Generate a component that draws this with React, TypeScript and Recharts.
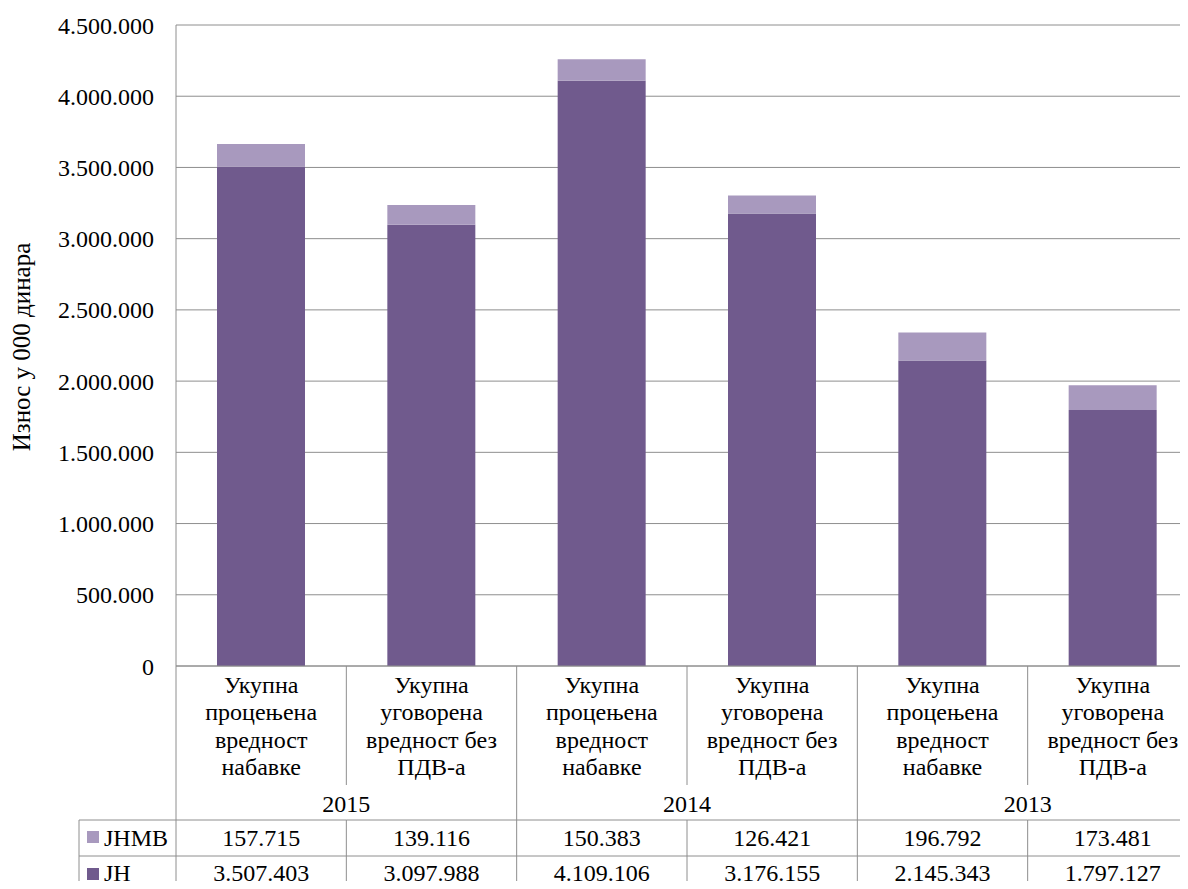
import React from 'react';
import { BarChart, Bar, XAxis, YAxis, CartesianGrid, Label } from 'recharts';

// categories: one entry per bar, split into the label's lines
const categoryLines = [
  ['Укупна', 'процењена', 'вредност', 'набавке'],
  ['Укупна', 'уговорена', 'вредност без', 'ПДВ-а'],
  ['Укупна', 'процењена', 'вредност', 'набавке'],
  ['Укупна', 'уговорена', 'вредност без', 'ПДВ-а'],
  ['Укупна', 'процењена', 'вредност', 'набавке'],
  ['Укупна', 'уговорена', 'вредност без', 'ПДВ-а'],
];
const years = ['2015', '2014', '2013'];

const jh = [3507403, 3097988, 4109106, 3176155, 2145343, 1797127];
const jhmb = [157715, 139116, 150383, 126421, 196792, 173481];

const yTicks = [0, 500000, 1000000, 1500000, 2000000, 2500000, 3000000, 3500000, 4000000, 4500000];

const JH_COLOR = '#705a8d';
const JHMB_COLOR = '#a899be';
const LINE = '#8e8e8e';
const FONT = 'Liberation Serif, Times New Roman, DejaVu Serif, serif';

const CHART_W = 1200;
const CHART_H = 900;
const PLOT_LEFT = 176;
const PLOT_RIGHT = 2;
const BAND = (CHART_W - PLOT_LEFT - PLOT_RIGHT) / categoryLines.length;
const LEGEND_LEFT = 79;

const fmt = (v: number) => String(v).replace(/\B(?=(\d{3})+(?!\d))/g, '.');

const data = categoryLines.map((lines, i) => ({
  name: `c${i}`,
  jh: jh[i],
  jhmb: jhmb[i],
}));

const textStyle: React.CSSProperties = { fontFamily: FONT, fontSize: 24, fill: '#000' };

function TableTick(props: any) {
  const { x, y, payload } = props;
  const i: number = payload?.index ?? props.index ?? 0;
  const half = BAND / 2;
  const left = x - half;
  const right = x + half;
  const yearEdge = i % 2 === 0;
  const bottom = y + 240;
  return (
    <g>
      {/* left boundary of this column */}
      {yearEdge ? (
        <line x1={left} y1={y} x2={left} y2={bottom} stroke={LINE} />
      ) : (
        <>
          <line x1={left} y1={y} x2={left} y2={y + 119} stroke={LINE} />
          <line x1={left} y1={y + 154} x2={left} y2={bottom} stroke={LINE} />
        </>
      )}
      {i === categoryLines.length - 1 && (
        <line x1={right} y1={y} x2={right} y2={bottom} stroke={LINE} />
      )}
      {categoryLines[i].map((t, k) => (
        <text key={k} x={x} y={y + 27 + k * 27.3} textAnchor="middle" style={textStyle}>
          {t}
        </text>
      ))}
      {yearEdge && (
        <text x={right} y={y + 146} textAnchor="middle" style={textStyle}>
          {years[i / 2]}
        </text>
      )}
      <line x1={i === 0 ? LEGEND_LEFT : left} y1={y + 154} x2={right} y2={y + 154} stroke={LINE} />
      <line x1={i === 0 ? LEGEND_LEFT : left} y1={y + 190} x2={right} y2={y + 190} stroke={LINE} />
      <line x1={i === 0 ? LEGEND_LEFT : left} y1={y + 226} x2={right} y2={y + 226} stroke={LINE} />
      <text x={x} y={y + 180} textAnchor="middle" style={textStyle}>{fmt(jhmb[i])}</text>
      <text x={x} y={y + 215} textAnchor="middle" style={textStyle}>{fmt(jh[i])}</text>
      {i === 0 && (
        <g>
          <line x1={LEGEND_LEFT} y1={y + 154} x2={LEGEND_LEFT} y2={bottom} stroke={LINE} />
          <rect x={87} y={y + 165} width={12} height={12} fill={JHMB_COLOR} />
          <text x={104} y={y + 180} style={textStyle}>JHMB</text>
          <rect x={87} y={y + 202} width={12} height={12} fill={JH_COLOR} />
          <text x={104} y={y + 215} style={textStyle}>JH</text>
        </g>
      )}
    </g>
  );
}

export default function App() {
  return (
    <div
      style={{
        margin: -8,
        width: 1188,
        height: 889,
        overflow: 'hidden',
        background: '#fff',
        fontFamily: FONT,
      }}
    >
      <BarChart
        width={CHART_W}
        height={CHART_H}
        data={data}
        margin={{ top: 25, right: PLOT_RIGHT, bottom: 0, left: 0 }}
        style={{ fontFamily: FONT }}
      >
        <CartesianGrid vertical={false} stroke={LINE} strokeOpacity={1} />
        <XAxis
          dataKey="name"
          height={CHART_H - 666}
          interval={0}
          tickLine={false}
          tickSize={0}
          tickMargin={0}
          axisLine={{ stroke: LINE }}
          tick={<TableTick />}
        />
        <YAxis
          width={PLOT_LEFT}
          domain={[0, 4500000]}
          ticks={yTicks}
          tickFormatter={fmt}
          tickLine={false}
          tickSize={0}
          tickMargin={22}
          axisLine={{ stroke: LINE }}
          tick={{ style: textStyle, fontSize: 24, fill: '#000' }}
        >
          <Label
            content={() => (
              <text
                transform="translate(30,347) rotate(-90)"
                textAnchor="middle"
                style={{ ...textStyle, fontSize: 25 }}
              >
                Износ у 000 динара
              </text>
            )}
          />
        </YAxis>
        <Bar dataKey="jh" stackId="a" fill={JH_COLOR} barSize={88} isAnimationActive={false} />
        <Bar dataKey="jhmb" stackId="a" fill={JHMB_COLOR} barSize={88} isAnimationActive={false} />
      </BarChart>
    </div>
  );
}
